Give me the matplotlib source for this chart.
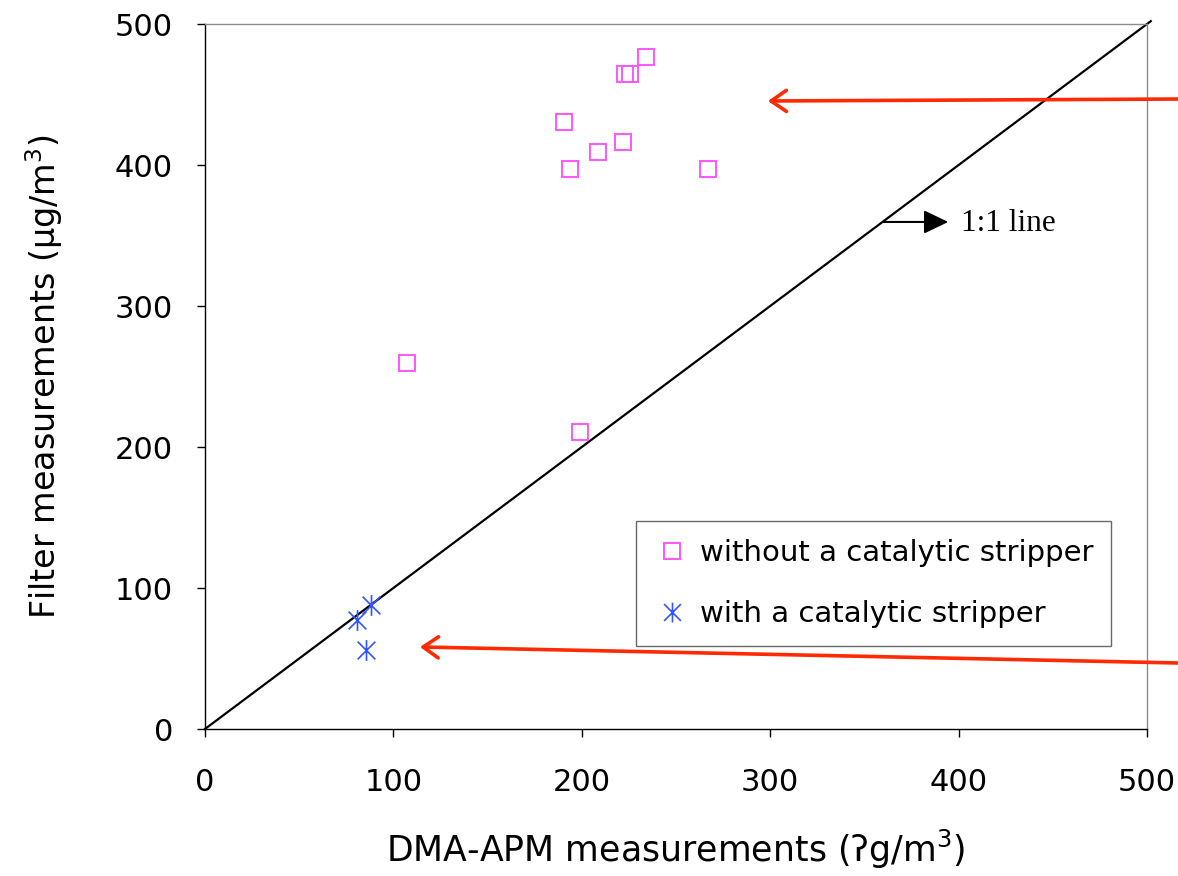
import matplotlib
matplotlib.use("Agg")
import matplotlib.pyplot as plt
from matplotlib.path import Path

plt.rcParams['font.family'] = ['DejaVu Sans']
plt.rcParams['mathtext.default'] = 'regular'

# Measurements without a catalytic stripper (DMA-APM vs filter, ug/m3)
dma_without = [234.1, 222.9, 225.8, 190.6, 208.8, 221.7, 193.5, 267.2, 107.0, 199.0]
filter_without = [476.6, 464.2, 464.2, 430.6, 409.4, 416.5, 397.0, 397.0, 259.6, 210.3]

# Measurements with a catalytic stripper
dma_with = [88.1, 80.9, 85.3]
filter_with = [87.9, 77.3, 56.0]

# 1:1 reference line
one_to_one = [0, 502]

ticks = [0, 100, 200, 300, 400, 500]

# Asterisk marker: vertical stroke crossed by an X
star = Path([(0, -1), (0, 1), (-0.85, -0.85), (0.85, 0.85), (-0.85, 0.85), (0.85, -0.85)],
            [Path.MOVETO, Path.LINETO, Path.MOVETO, Path.LINETO, Path.MOVETO, Path.LINETO])

fig = plt.figure(figsize=(11.78, 8.76), dpi=100)
ax = fig.add_axes([0.174, 0.1678, 0.7997, 0.8048])

ax.plot(one_to_one, one_to_one, color='black', lw=1.6, clip_on=False, zorder=2)

ax.plot(dma_without, filter_without, linestyle='none', marker='s', markersize=11.5,
        markerfacecolor='none', markeredgecolor='#ff55ff', markeredgewidth=1.4,
        label='without a catalytic stripper', zorder=3)
ax.plot(dma_with, filter_with, linestyle='none', marker=star, markersize=15,
        markerfacecolor='none', markeredgecolor='#3355ff', markeredgewidth=1.2,
        label='with a catalytic stripper', zorder=3)

ax.set_xlim(0, 500)
ax.set_ylim(0, 500)
ax.set_xticks(ticks)
ax.set_yticks(ticks)
ax.tick_params(axis='both', direction='out', length=6, width=1, labelsize=22)
ax.tick_params(axis='x', pad=22)
ax.tick_params(axis='y', pad=17)

for side in ('left', 'bottom'):
    ax.spines[side].set_color('black')
    ax.spines[side].set_linewidth(1.0)
for side in ('top', 'right'):
    ax.spines[side].set_color('#8c8c8c')
    ax.spines[side].set_linewidth(1.0)

ax.set_xlabel('DMA-APM measurements (\u0294g/m$^{3}$)', fontsize=25, labelpad=22)
ax.set_ylabel('Filter measurements (\u00b5g/m$^{3}$)', fontsize=24, labelpad=36)

leg = ax.legend(loc='lower right', bbox_to_anchor=(0.9615, 0.118), fontsize=21,
                frameon=True, fancybox=False, borderpad=0.6, labelspacing=1.15,
                handlelength=1.3, handletextpad=0.3, borderaxespad=0,
                markerscale=0.95)
leg.get_frame().set_edgecolor('#444444')
leg.get_frame().set_linewidth(1.0)

# Label arrow pointing at the 1:1 line
ax.annotate('', xy=(394.5, 359.6), xytext=(359.9, 359.6),
            arrowprops=dict(arrowstyle='-|>,head_length=0.75,head_width=0.36',
                            mutation_scale=20, color='black', lw=1.5,
                            shrinkA=0, shrinkB=0))
ax.text(401.5, 358.2, '1:1 line', fontsize=22.5, family=['Liberation Serif', 'DejaVu Serif'],
        va='center', ha='left')

# Red arrows marking the two groups
red = '#ff2a00'
for tip, tail in (((298.8, 445.4), (517, 446.8)), ((114.1, 58.2), (517, 46.8))):
    ax.annotate('', xy=tip, xytext=tail, annotation_clip=False,
                arrowprops=dict(arrowstyle='->,head_length=0.55,head_width=0.38',
                                mutation_scale=20, color=red, lw=2.6,
                                shrinkA=0, shrinkB=0))

fig.savefig('out.png', dpi=100)
